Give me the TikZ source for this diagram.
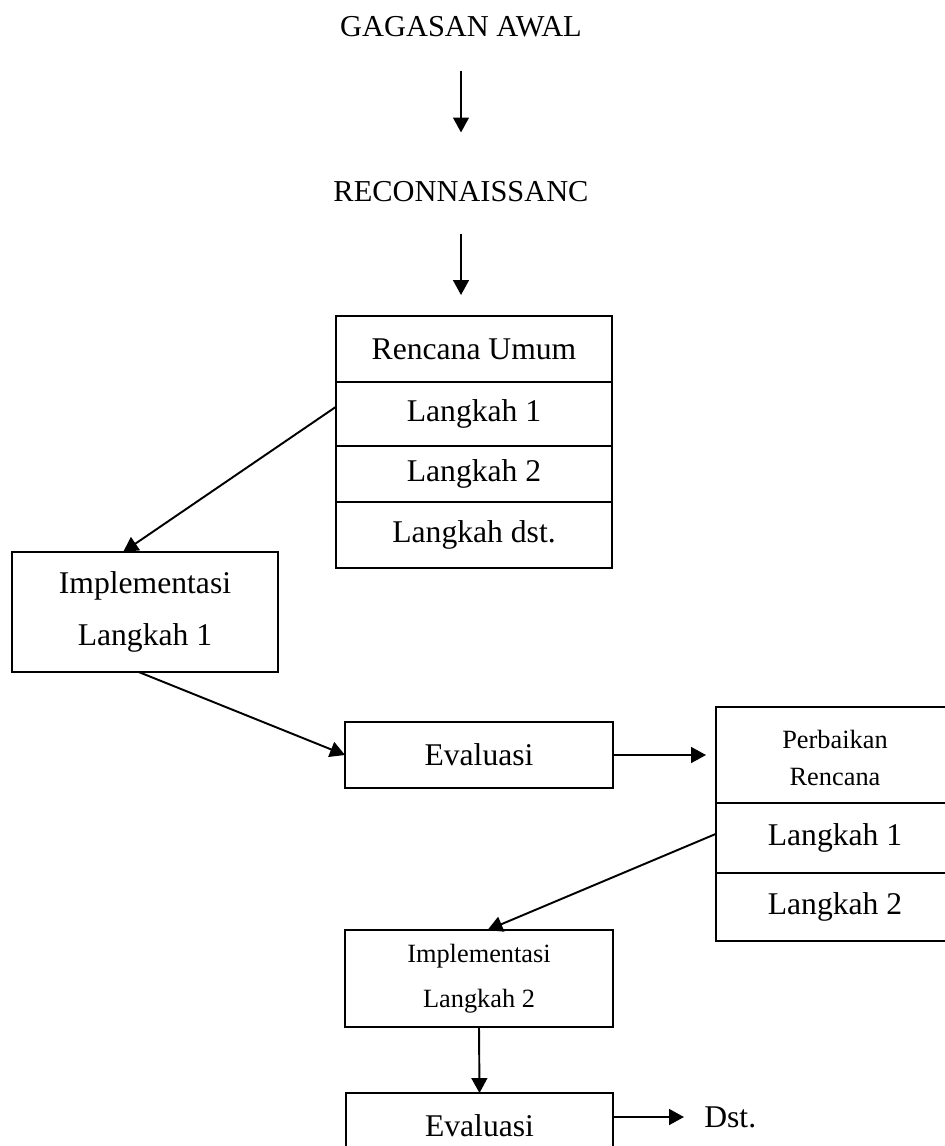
\documentclass[tikz,border=0pt]{standalone}
\usepackage{fontspec}
\setmainfont{Liberation Serif}
\usepackage{tikz}
\usetikzlibrary{arrows.meta, positioning}

\newcommand{\bigtxt}{\fontsize{18}{30}\selectfont}
\newcommand{\smalltxt}{\fontsize{15}{21}\selectfont}
\newcommand{\headfont}{\fontsize{17.3}{20}\selectfont}

\begin{document}
\begin{tikzpicture}[x=0.02cm, y=-0.02cm, >={Triangle[length=8.5pt,width=9pt]}, every node/.style={font=\bigtxt}]
    \tikzstyle{cell} = [rectangle, draw, line width=1.1pt, inner sep=0pt, outer sep=0pt, align=center]
    \tikzstyle{headtxt} = [inner sep=0pt, font=\headfont]
    \tikzstyle{line} = [draw, ->, line width=1.1pt]

    \path [use as bounding box] (0,0) rectangle (945,1146);
    \clip (0,0) rectangle (945,1146);

    \node [headtxt] (gagasan) at (461,27) {GAGASAN AWAL};
    \node [headtxt] (recon) at (461,192) {RECONNAISSANC};

    % rencana umum
    \node [cell, minimum width=5.52cm, minimum height=1.32cm] (umum) at (474,349) {Rencana Umum};
    \node [cell, minimum width=5.52cm, minimum height=1.28cm, below=0pt of umum] (rlk1) {Langkah 1};
    \node [cell, minimum width=5.52cm, minimum height=1.12cm, below=0pt of rlk1] (rlk2) {Langkah 2};
    \node [cell, minimum width=5.52cm, minimum height=1.32cm, below=0pt of rlk2] (rlkdst) {Langkah dst.};

    \node [cell, minimum width=5.32cm, minimum height=2.4cm] (impl1) at (145,612) {Implementasi\\Langkah 1};
    \node [cell, minimum width=5.36cm, minimum height=1.32cm] (eval1) at (479,755) {Evaluasi};

    % perbaikan rencana
    \node [cell, minimum width=4.76cm, minimum height=1.92cm, font=\smalltxt] (perb) at (835,755) {\rule{0pt}{14pt}Perbaikan\\Rencana};
    \node [cell, minimum width=4.76cm, minimum height=1.4cm, below=0pt of perb] (plk1) {Langkah 1};
    \node [cell, minimum width=4.76cm, minimum height=1.36cm, below=0pt of plk1] (plk2) {Langkah 2};

    \node [cell, minimum width=5.36cm, minimum height=1.94cm, font=\fontsize{15}{25.5}\selectfont] (impl2) at (479,978.5) {Implementasi\\Langkah 2};
    \node [cell, minimum width=5.34cm, minimum height=1.32cm] (eval2) at (479.5,1126) {Evaluasi};
    \node [headtxt, font=\bigtxt, anchor=west] (dst) at (704,1117) {Dst.};

    \path [line, shorten <=0.66cm, shorten >=0.98cm] (gagasan) -- (recon);
    \path [line, shorten <=0.62cm, shorten >=0.42cm] (recon.south) -- (recon.south |- umum.north);
    \path [line] (rlk1.177) -- (impl1.110);
    \path [line] (impl1.264) -- (eval1.west);
    \path [line, shorten >=0.2cm] (eval1.east) -- (perb.west);
    \path [line] (plk1.178) -- (impl2.80);
    \path [line] (impl2.south) -- (eval2.north);
    \path [line, shorten >=0.4cm] (dst.west -| eval2.east) -- (dst.west);
\end{tikzpicture}
\end{document}
